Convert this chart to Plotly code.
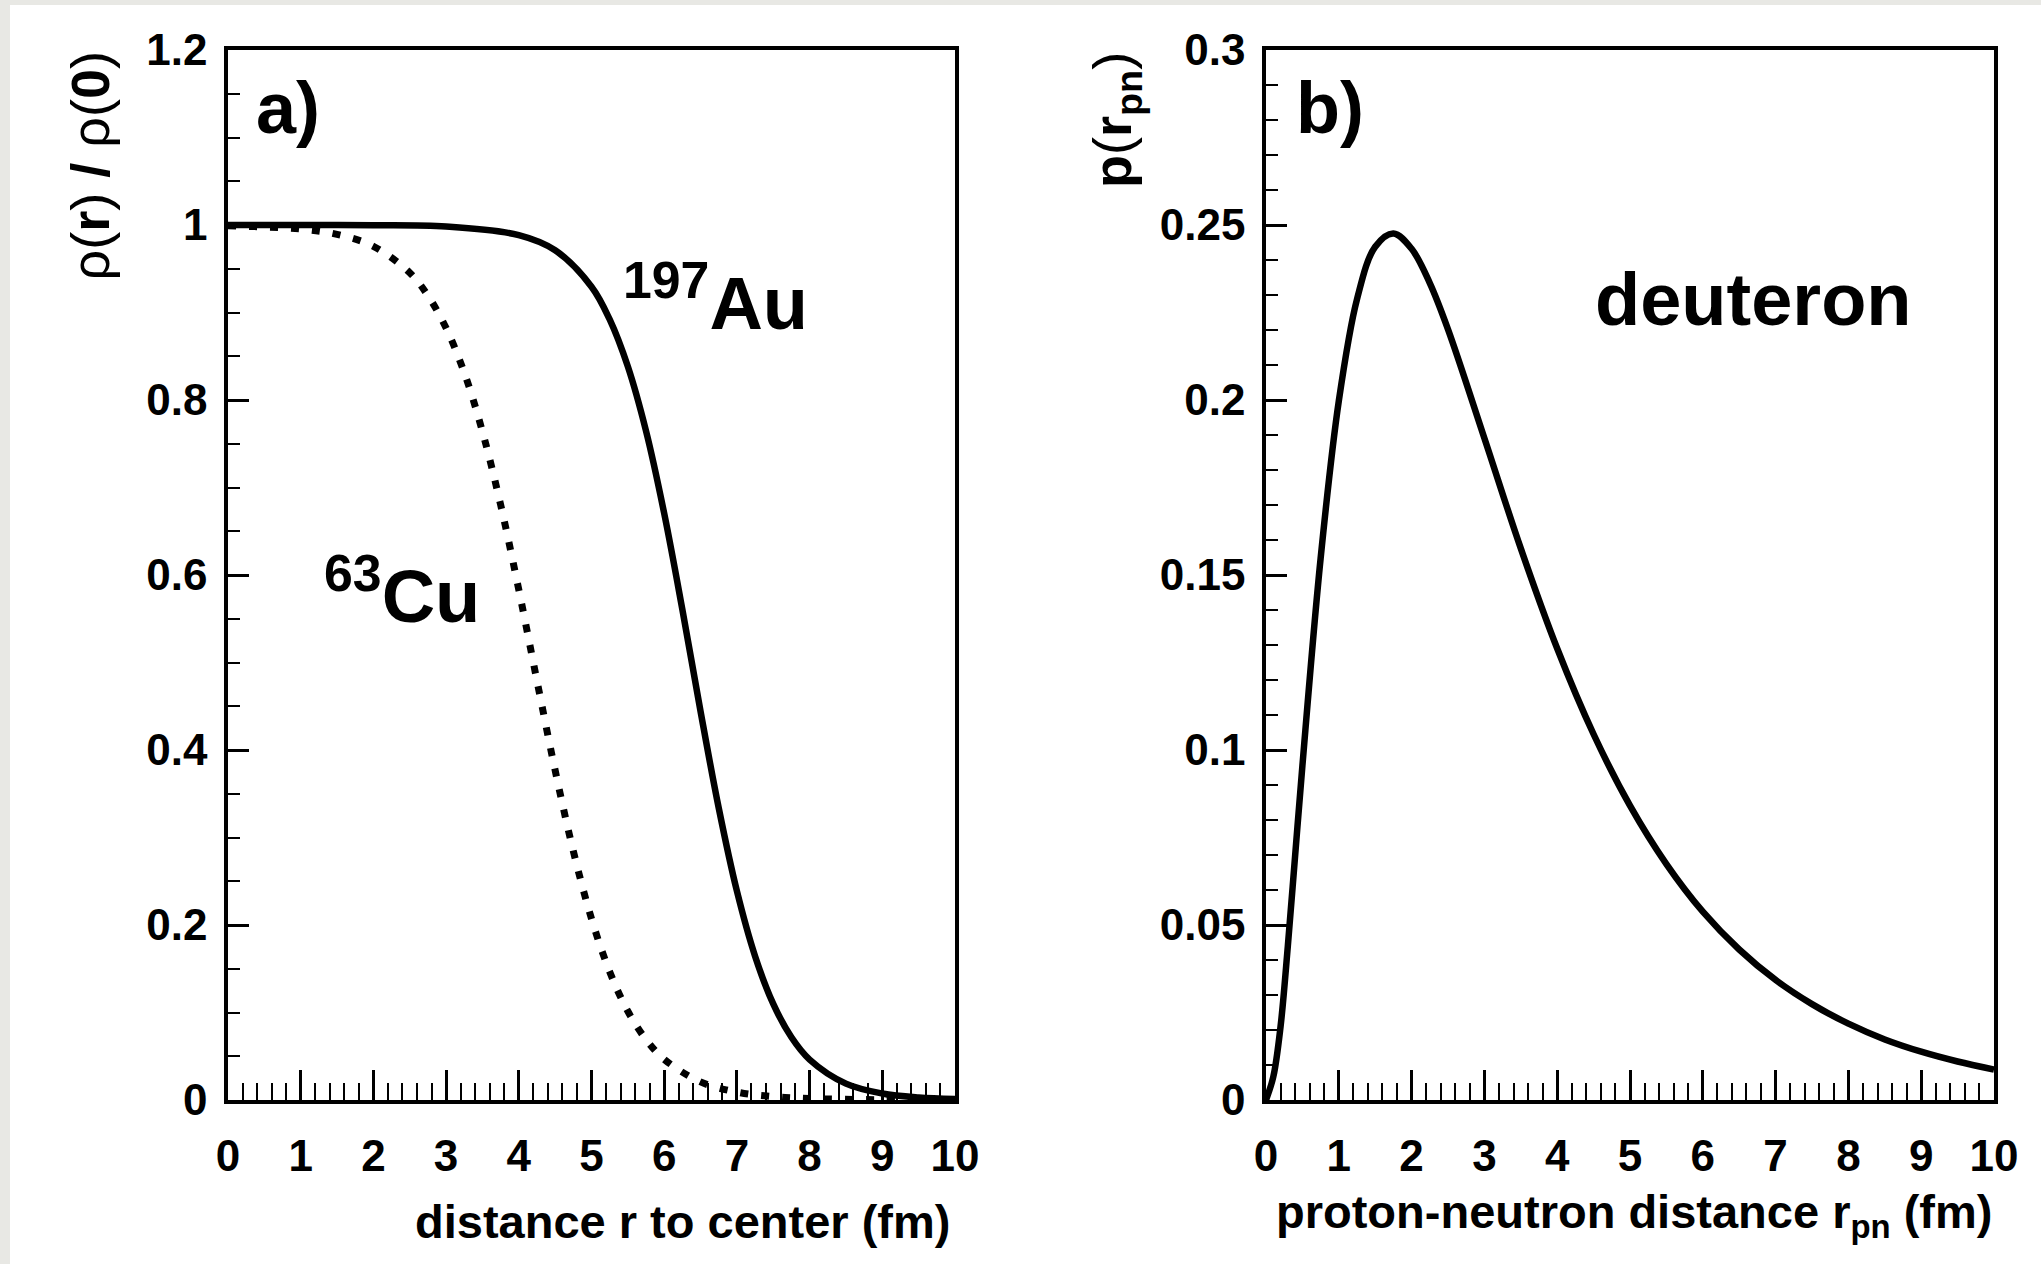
import plotly.graph_objects as go

# ---------------- data ----------------
r_au = [0, 1, 2, 3, 4, 4.5, 5, 5.25, 5.5, 5.75, 6, 6.25, 6.5, 6.75, 7, 7.25, 7.5, 7.75, 8, 8.5, 9, 9.5, 10]
rho_au = [1.0000, 1.0000, 0.9997, 0.9982, 0.9884, 0.9711, 0.9295, 0.8921, 0.8382, 0.7645, 0.6704, 0.5605,
          0.4442, 0.3337, 0.2388, 0.1644, 0.1098, 0.0717, 0.0462, 0.0187, 0.0074, 0.0029, 0.0012]

r_cu = [0, 1, 1.5, 2, 2.5, 2.75, 3, 3.25, 3.5, 3.75, 4, 4.25, 4.5, 4.75, 5, 5.25, 5.5, 5.75, 6, 6.5, 7, 7.5, 8, 9, 10]
rho_cu = [0.9991, 0.9954, 0.9893, 0.9757, 0.9454, 0.9193, 0.8822, 0.8312, 0.7639, 0.6803, 0.5832, 0.4790,
          0.3768, 0.2844, 0.2072, 0.1466, 0.1014, 0.0691, 0.0465, 0.0207, 0.0090, 0.0039, 0.0017, 0.0003,
          0.0001]

r_pn = [0, 0.1, 0.2, 0.3, 0.4, 0.5, 0.75, 1.0, 1.25, 1.5, 1.75, 2.0, 2.25, 2.5, 3.0, 3.5, 4.0, 4.5,
        5.0, 5.5, 6.0, 6.5, 7.0, 7.5, 8.0, 8.5, 9.0, 9.5, 10]
p_pn = [0.0000, 0.0066, 0.0210, 0.0440, 0.0698, 0.0955, 0.1547, 0.1997, 0.2288, 0.2438, 0.2476, 0.2432,
        0.2334, 0.2202, 0.1891, 0.1576, 0.1290, 0.1045, 0.0841, 0.0674, 0.0538, 0.0430, 0.0343, 0.0274,
        0.0218, 0.0173, 0.0138, 0.0110, 0.0087]

W, H = 2041, 1264
FONT = "Liberation Sans, Arial, Helvetica, sans-serif"


def px_x(p):
    return p / W


def px_y(p):
    return 1 - p / H


fig = go.Figure()
fig.add_trace(go.Scatter(x=r_au, y=rho_au, mode="lines", line=dict(color="black", width=6.5, shape="spline"),
                         xaxis="x", yaxis="y", name="197Au"))
fig.add_trace(go.Scatter(x=r_cu, y=rho_cu, mode="lines",
                         line=dict(color="black", width=7, dash="8px,13px", shape="spline"),
                         xaxis="x", yaxis="y", name="63Cu"))
fig.add_trace(go.Scatter(x=r_pn, y=p_pn, mode="lines", line=dict(color="black", width=6.5, shape="spline"),
                         xaxis="x2", yaxis="y2", name="deuteron"))

tickfont = dict(family=FONT, size=44, color="black", weight="bold")


def xax(domain, anchor):
    return dict(domain=domain, anchor=anchor, range=[0, 10], tick0=0, dtick=1, automargin=False,
                ticks="inside", ticklen=30, tickwidth=2.5, tickcolor="black",
                minor=dict(dtick=0.2, ticks="inside", ticklen=17, tickwidth=2, tickcolor="black"),
                showline=True, linewidth=3.5, linecolor="black", mirror=True,
                showgrid=False, zeroline=False, tickfont=tickfont, ticklabelstandoff=14)


def yax(domain, anchor, rng, dtick, mdtick):
    return dict(domain=domain, anchor=anchor, range=rng, tick0=0, dtick=dtick, automargin=False,
                ticks="inside", ticklen=21, tickwidth=2.5, tickcolor="black",
                minor=dict(dtick=mdtick, ticks="inside", ticklen=12, tickwidth=2, tickcolor="black"),
                showline=True, linewidth=3.5, linecolor="black", mirror=True,
                showgrid=False, zeroline=False, tickfont=tickfont, ticklabelstandoff=8)


ydom = [px_y(1100), px_y(50)]
fig.update_layout(
    width=W, height=H, margin=dict(l=0, r=0, t=0, b=0, pad=0, autoexpand=False),
    paper_bgcolor="white", plot_bgcolor="white", showlegend=False,
    xaxis=xax([px_x(228), px_x(955)], "y"),
    yaxis=yax(ydom, "x", [0, 1.2], 0.2, 0.05),
    xaxis2=xax([px_x(1266), px_x(1994)], "y2"),
    yaxis2=yax(ydom, "x2", [0, 0.3], 0.05, 0.01),
)

# gray paper edges
fig.add_shape(type="rect", xref="paper", yref="paper", x0=0, x1=px_x(10), y0=0, y1=1,
              fillcolor="#e8e8e4", line=dict(width=0), layer="below")
fig.add_shape(type="rect", xref="paper", yref="paper", x0=0, x1=1, y0=px_y(5), y1=1,
              fillcolor="#e8e8e4", line=dict(width=0), layer="below")


def ann(text, x, y, size, xanchor="left", yanchor="middle", angle=0, weight="bold"):
    fig.add_annotation(text=text, x=px_x(x), y=px_y(y), xref="paper", yref="paper",
                       xanchor=xanchor, yanchor=yanchor, textangle=angle, showarrow=False,
                       font=dict(family=FONT, size=size, color="black", weight=weight))


# panel labels and curve labels
ann("a)", 254, 108, 72)
ann("b)", 1294, 108, 72)
ann("deuteron", 1593, 300, 74)
ann("<sup>197</sup>Au", 621, 347, 74, yanchor="bottom")
ann("<sup>63</sup>Cu", 322, 640, 74, yanchor="bottom")

# axis titles (ROOT style: right/top aligned)
ann("distance r to center (fm)", 952, 1221, 47, xanchor="right")
ann("proton-neutron distance r<sub>pn</sub> (fm)", 1994, 1183, 47, xanchor="right", yanchor="top")
ann("ρ(<b>r</b>) <b>/</b> ρ(<b>0</b>)", 89, 50, 54, xanchor="center", yanchor="top", angle=-90,
    weight="normal")
ann("<b>p</b>(<b>r</b><sub><b>pn</b></sub>)", 1116, 50, 54, xanchor="center", yanchor="top", angle=-90,
    weight="normal")

fig.write_html("out.html")
